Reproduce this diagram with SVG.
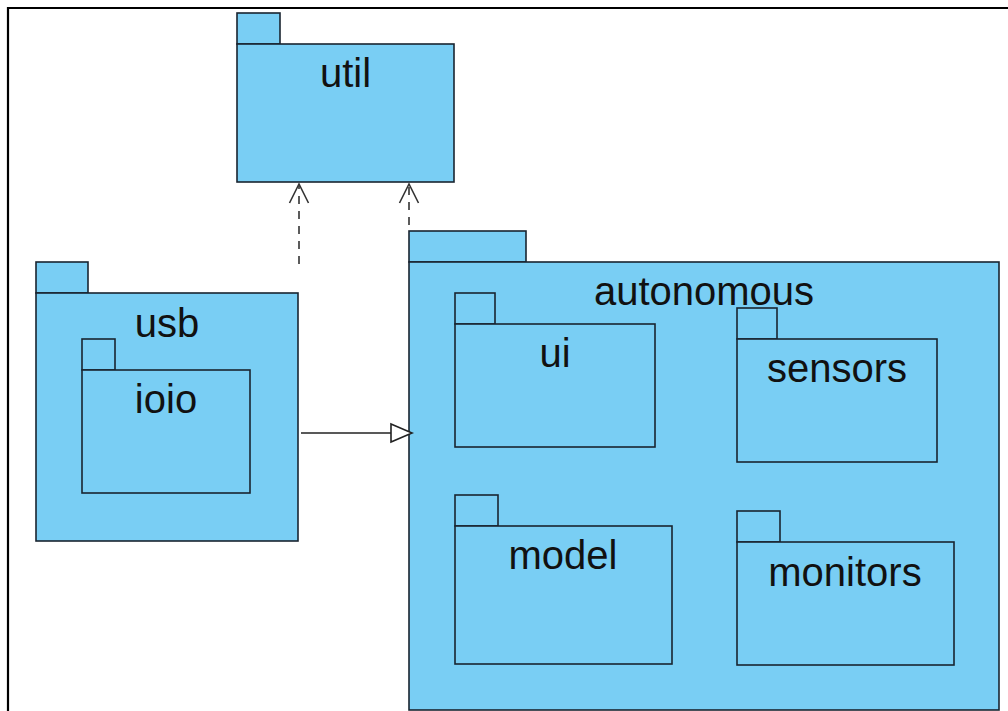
<svg xmlns="http://www.w3.org/2000/svg" width="1008" height="711" viewBox="0 0 1008 711">
<style>
.pkg{fill:#79CEF4;stroke:#1a2530;stroke-width:1.6}
.lbl{font-family:"Liberation Sans",Arial,sans-serif;font-size:40px;fill:#111;text-anchor:middle}
.dep{fill:none;stroke:#333;stroke-width:1.6;stroke-dasharray:8 7}
.head{fill:none;stroke:#333;stroke-width:1.6}
.gen{fill:none;stroke:#222;stroke-width:1.6}
.tri{fill:#fff;stroke:#222;stroke-width:1.6}
</style>
<rect width="1008" height="711" fill="#fff"/>
<path d="M8,711 V8 H1008" fill="none" stroke="#000" stroke-width="2.2"/>

<g id="util">
<rect class="pkg" x="237" y="13" width="43" height="31"/>
<rect class="pkg" x="237" y="44" width="217" height="138"/>
<text class="lbl" x="345.5" y="87">util</text>
</g>

<g id="usb">
<rect class="pkg" x="36" y="262" width="52" height="31"/>
<rect class="pkg" x="36" y="293" width="262" height="248"/>
<text class="lbl" x="167" y="337">usb</text>
</g>
<g id="ioio">
<rect class="pkg" x="82" y="339" width="33" height="31"/>
<rect class="pkg" x="82" y="370" width="168" height="123"/>
<text class="lbl" x="166" y="413">ioio</text>
</g>

<g id="autonomous">
<rect class="pkg" x="409" y="231" width="117" height="31"/>
<rect class="pkg" x="409" y="262" width="590" height="448"/>
<text class="lbl" x="704" y="305">autonomous</text>
</g>
<g id="ui">
<rect class="pkg" x="455" y="293" width="40" height="31"/>
<rect class="pkg" x="455" y="324" width="200" height="123"/>
<text class="lbl" x="555" y="367">ui</text>
</g>
<g id="sensors">
<rect class="pkg" x="737" y="308" width="40" height="31"/>
<rect class="pkg" x="737" y="339" width="200" height="123"/>
<text class="lbl" x="837" y="382">sensors</text>
</g>
<g id="model">
<rect class="pkg" x="455" y="495" width="43" height="31"/>
<rect class="pkg" x="455" y="526" width="217" height="138"/>
<text class="lbl" x="563" y="569">model</text>
</g>
<g id="monitors">
<rect class="pkg" x="737" y="511" width="43" height="31"/>
<rect class="pkg" x="737" y="542" width="217" height="123"/>
<text class="lbl" x="845" y="586">monitors</text>
</g>

<g id="connectors">
<path class="dep" d="M299,264 V186"/>
<path class="head" d="M289.5,203 L299,184 L308.5,203"/>
<path class="dep" d="M409,225 V186"/>
<path class="head" d="M399.5,203 L409,184 L418.5,203"/>
<path class="gen" d="M301,433 H391"/>
<path class="tri" d="M391,424 L412,433 L391,442 Z"/>
</g>
</svg>
